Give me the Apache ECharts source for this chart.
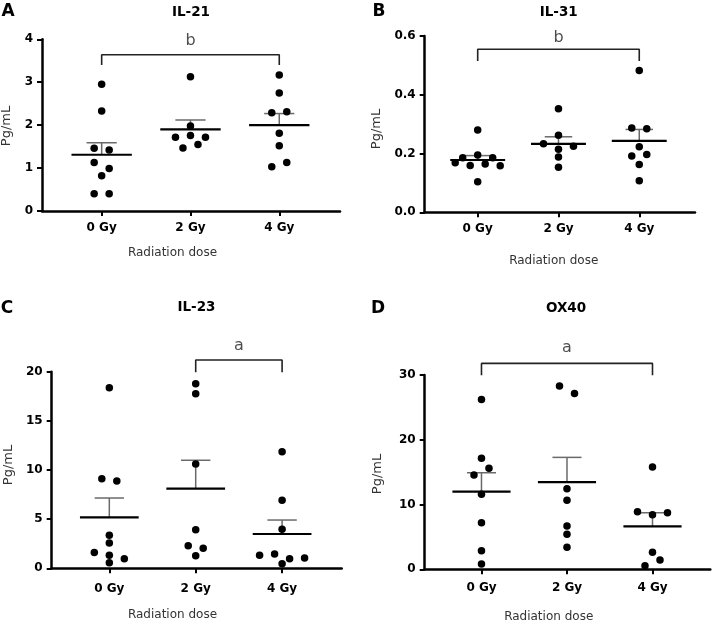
<!DOCTYPE html>
<html><head><meta charset="utf-8">
<script src="https://cdn.jsdelivr.net/npm/echarts@6/dist/echarts.min.js"></script>
<style>html,body{margin:0;padding:0;background:#fff}#c{width:714px;height:621px}</style>
</head><body><div id="c"></div>
<script>
// ---------- data ----------
const categories = ['0 Gy', '2 Gy', '4 Gy'];
const panelLetters = ['A', 'B', 'C', 'D'];
const panelTitles = ['IL-21', 'IL-31', 'IL-23', 'OX40'];
const xAxisTitle = 'Radiation dose';
const yAxisTitle = 'Pg/mL';

const il21_0Gy = [2.95, 2.33, 1.46, 1.42, 1.13, 0.99, 0.82, 0.40, 0.40];
const il21_2Gy = [3.13, 1.98, 1.72, 1.76, 1.72, 1.47, 1.55];
const il21_4Gy = [3.17, 2.75, 2.29, 2.31, 1.81, 1.52, 1.03, 1.13];
const il21Mean = [1.31, 1.90, 2.00];
const il21SemTop = [1.59, 2.12, 2.27];

const il31_0Gy = [0.28, 0.186, 0.195, 0.186, 0.169, 0.159, 0.164, 0.158, 0.104];
const il31_2Gy = [0.352, 0.262, 0.233, 0.215, 0.225, 0.188, 0.153];
const il31_4Gy = [0.483, 0.287, 0.284, 0.223, 0.192, 0.197, 0.163, 0.107];
const il31Mean = [0.178, 0.233, 0.243];
const il31SemTop = [0.193, 0.257, 0.282];

const il23_0Gy = [18.37, 9.12, 8.88, 3.35, 2.57, 1.62, 1.32, 0.98, 0.57];
const il23_2Gy = [18.78, 17.76, 10.61, 3.93, 2.30, 2.03, 1.28];
const il23_4Gy = [11.86, 6.92, 3.97, 1.32, 1.45, 0.98, 1.05, 0.47];
const il23Mean = [5.19, 8.10, 3.49];
const il23SemTop = [7.15, 10.99, 4.91];

const ox40_0Gy = [26.23, 17.13, 14.55, 15.59, 11.57, 7.19, 2.87, 0.82];
const ox40_2Gy = [28.29, 27.16, 12.44, 10.65, 6.68, 5.40, 3.40];
const ox40_4Gy = [15.79, 8.89, 8.43, 8.73, 2.62, 0.56, 1.44];
const ox40Mean = [11.98, 13.47, 6.63];
const ox40SemTop = [14.91, 17.28, 8.73];

const yAxisMax = [4, 0.6, 20, 30];
const yAxisInterval = [1, 0.2, 5, 10];
const yLabelDecimals = [0, 1, 0, 0];

// significance brackets: [fromGroup, toGroup], leg bottom, bracket top, letter level, letter
const sigGroups = [[0, 2], [0, 2], [1, 2], [0, 2]];
const sigLegY = [3.40, 0.515, 19.94, 29.98];
const sigTopY = [3.64, 0.555, 21.19, 31.79];
const sigLabelY = [3.96, 0.595, 22.63, 34.15];
const sigLetters = ['b', 'b', 'a', 'a'];

const panelGroups = [
  [il21_0Gy, il21_2Gy, il21_4Gy],
  [il31_0Gy, il31_2Gy, il31_4Gy],
  [il23_0Gy, il23_2Gy, il23_4Gy],
  [ox40_0Gy, ox40_2Gy, ox40_4Gy]
];
const panelMeans = [il21Mean, il31Mean, il23Mean, ox40Mean];
const panelSemTop = [il21SemTop, il31SemTop, il23SemTop, ox40SemTop];

// ---------- layout ----------
const grids = [
  {left: 42, top: 39.3, width: 298, height: 171.7},
  {left: 424.7, top: 36, width: 270.3, height: 176.3},
  {left: 51.7, top: 371.7, width: 290, height: 196.6},
  {left: 424.7, top: 375, width: 285.6, height: 194.3}
];
const xRanges = [[-0.672, 2.684], [-0.656, 2.69], [-0.667, 2.69], [-0.664, 2.676]];
const xLabelMargin = [10.5, 10.3, 14.3, 12.6];
const titlePos = [[191, 12.3], [558.7, 12], [196.5, 307.5], [566, 308]];
const letterPos = [[8, 12], [379, 12], [7, 309], [378, 309]];
const xNamePos = [[172.5, 253.3], [553.7, 261], [172.5, 615], [548.7, 616.7]];
const yNamePos = [[6.7, 126], [377, 129], [8.3, 465], [378, 474]];

const FONT = 'DejaVu Sans';
const MEAN_HALF = 0.34, CAP_HALF = 0.17;
const ROW_TOL_PX = 7.5, STEP_PX = 15;

// beeswarm-like horizontal spreading of points close in value
function swarmOffsets(values, pxPerUnitY) {
  const idx = values.map((v, i) => i).sort((a, b) => values[b] - values[a]);
  const rows = [];
  idx.forEach(i => {
    const row = rows[rows.length - 1];
    if (row && (values[row[0]] - values[i]) * pxPerUnitY < ROW_TOL_PX) row.push(i);
    else rows.push([i]);
  });
  const off = new Array(values.length).fill(0);
  rows.forEach(row => {
    const r = row.slice().sort((a, b) => a - b);
    r.forEach((i, k) => { off[i] = (k - (r.length - 1) / 2) * STEP_PX; });
  });
  return off;
}

const chart = echarts.init(document.getElementById('c'), null, {renderer: 'canvas'});
const option = {
  animation: false,
  backgroundColor: '#fff',
  grid: [], xAxis: [], yAxis: [], series: [], graphic: []
};

grids.forEach((g, p) => {
  option.grid.push(Object.assign({containLabel: false}, g));
  option.xAxis.push({
    type: 'value', gridIndex: p, min: xRanges[p][0], max: xRanges[p][1],
    axisLine: {show: true, onZero: false, lineStyle: {color: '#000', width: 2.5}},
    axisTick: {show: true, customValues: [0, 1, 2], length: 5, lineStyle: {color: '#000', width: 2}},
    axisLabel: {show: true, customValues: [0, 1, 2], margin: xLabelMargin[p],
      formatter: v => categories[Math.round(v)] || '',
      color: '#000', fontWeight: 'bold', fontSize: 12, fontFamily: FONT},
    splitLine: {show: false}
  });
  option.yAxis.push({
    type: 'value', gridIndex: p, min: 0, max: yAxisMax[p], interval: yAxisInterval[p],
    axisLine: {show: true, onZero: false, lineStyle: {color: '#000', width: 2.5}},
    axisTick: {show: true, length: 5, lineStyle: {color: '#000', width: 2}},
    axisLabel: {margin: 9, color: '#000', fontWeight: 'bold', fontSize: 12, fontFamily: FONT,
      formatter: v => Number(v).toFixed(yLabelDecimals[p])},
    splitLine: {show: false}
  });

  const pxPerUnitY = g.height / yAxisMax[p];
  const pxPerUnitX = g.width / (xRanges[p][1] - xRanges[p][0]);

  // mean + SEM
  option.series.push({
    type: 'custom', xAxisIndex: p, yAxisIndex: p, z: 2, silent: true, clip: false,
    encode: {x: 0, y: [1, 2]},
    data: panelMeans[p].map((m, i) => [i, m, panelSemTop[p][i]]),
    renderItem: (params, api) => {
      const x = api.value(0), m = api.value(1), t = api.value(2);
      const pL = api.coord([x - MEAN_HALF, m]), pR = api.coord([x + MEAN_HALF, m]);
      const pM = api.coord([x, m]), pT = api.coord([x, t]);
      const cL = api.coord([x - CAP_HALF, t]), cR = api.coord([x + CAP_HALF, t]);
      return {type: 'group', children: [
        {type: 'line', shape: {x1: pM[0], y1: pM[1], x2: pT[0], y2: pT[1]}, style: {stroke: '#6a6a6a', lineWidth: 1.5}},
        {type: 'line', shape: {x1: cL[0], y1: cL[1], x2: cR[0], y2: cR[1]}, style: {stroke: '#6a6a6a', lineWidth: 1.5}},
        {type: 'line', shape: {x1: pL[0], y1: pL[1], x2: pR[0], y2: pR[1]}, style: {stroke: '#000', lineWidth: 2.2}}
      ]};
    }
  });

  // points
  panelGroups[p].forEach((vals, gi) => {
    const off = swarmOffsets(vals, pxPerUnitY);
    option.series.push({
      type: 'scatter', xAxisIndex: p, yAxisIndex: p, z: 3, silent: true, clip: false,
      symbol: 'circle', symbolSize: 7.5, itemStyle: {color: '#000', opacity: 1},
      data: vals.map((v, i) => [gi + off[i] / pxPerUnitX, v])
    });
  });

  // significance bracket
  const [a, b] = sigGroups[p];
  option.series.push({
    type: 'line', xAxisIndex: p, yAxisIndex: p, z: 2, silent: true, clip: false,
    showSymbol: false, symbol: 'none',
    lineStyle: {color: '#222', width: 1.6},
    data: [[a, sigLegY[p]], [a, sigTopY[p]], [b, sigTopY[p]], [b, sigLegY[p]]]
  });
  option.series.push({
    type: 'scatter', xAxisIndex: p, yAxisIndex: p, z: 2, silent: true, clip: false,
    symbolSize: 0,
    label: {show: true, position: 'inside', formatter: sigLetters[p], fontSize: 16,
      fontFamily: FONT, color: '#222'},
    data: [[(a + b) / 2, sigLabelY[p]]]
  });

  // texts
  option.graphic.push(
    {type: 'text', x: letterPos[p][0], y: letterPos[p][1],
      style: {text: panelLetters[p], fill: '#000', font: 'bold 17px "DejaVu Sans"', align: 'center', verticalAlign: 'middle'}},
    {type: 'text', x: titlePos[p][0], y: titlePos[p][1],
      style: {text: panelTitles[p], fill: '#000', font: 'bold 13.5px "DejaVu Sans"', align: 'center', verticalAlign: 'middle'}},
    {type: 'text', x: xNamePos[p][0], y: xNamePos[p][1],
      style: {text: xAxisTitle, fill: '#333', font: '12px "DejaVu Sans"', align: 'center', verticalAlign: 'middle'}},
    {type: 'text', x: yNamePos[p][0], y: yNamePos[p][1], rotation: Math.PI / 2,
      style: {text: yAxisTitle, fill: '#333', font: '13px "DejaVu Sans"', align: 'center', verticalAlign: 'middle'}}
  );
});

chart.setOption(option);
</script>
</body></html>
